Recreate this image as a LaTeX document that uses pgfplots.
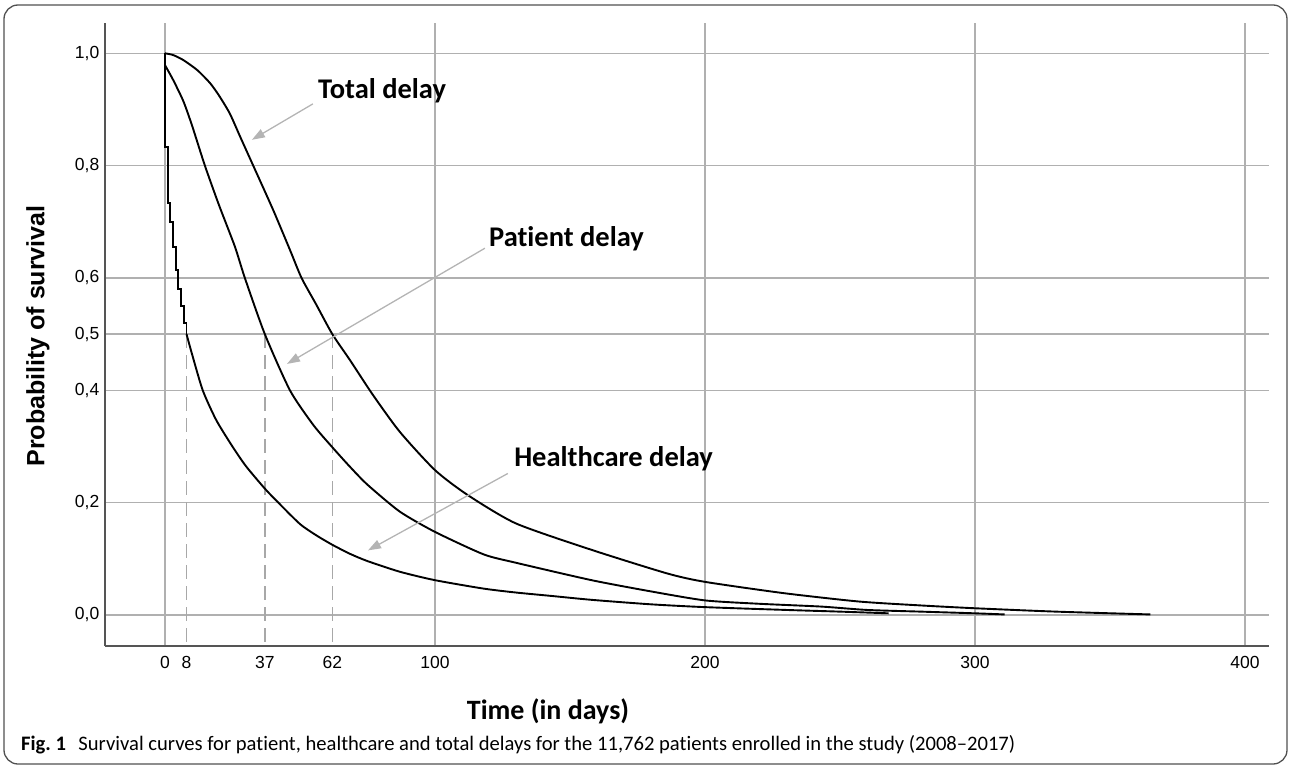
\documentclass[border=0pt]{standalone}
\usepackage{fontspec}
\setmainfont{Liberation Sans}
\newfontfamily\calib[Ligatures={TeX,NoCommon}]{Carlito}
\usepackage{pgfplots}
\pgfplotsset{compat=1.18}
\usetikzlibrary{arrows.meta}
\definecolor{gridgray}{HTML}{B0B0B0}
\definecolor{axisgray}{HTML}{555555}
\definecolor{dashgray}{HTML}{A8A8A8}
\definecolor{arrowgray}{HTML}{B4B4B4}
\definecolor{framegray}{HTML}{505050}
\begin{document}
\begin{tikzpicture}[x=1pt,y=1pt]
\useasboundingbox (0,0) rectangle (1290,-767);
\draw[framegray, line width=1.3pt, rounded corners=14pt] (4,-5) rectangle (1287,-764);
\begin{axis}[
  at={(105pt,-646pt)}, anchor=south west,
  scale only axis, width=1164pt, height=623.3pt,
  xmin=-22.2, xmax=408.9, ymin=-0.0552, ymax=1.0545,
  axis x line*=bottom, axis y line*=left,
  axis line style={-, line width=1.6pt, color=axisgray},
  xtick={0,100,200,300,400},
  extra x ticks={8,37,62}, extra x tick style={grid=none},
  ytick={0,0.2,0.4,0.5,0.6,0.8,1.0},
  yticklabels={{0,0},{0,2},{0,4},{0,5},{0,6},{0,8},{1,0}},
  xmajorgrids, ymajorgrids,
  grid style={line width=1.4pt, color=gridgray},
  major tick length=0pt,
  tick label style={font=\fontsize{17.5}{19}\selectfont},
  xticklabel style={yshift=-7.2pt},
  yticklabel style={xshift=-2.2pt},
  /pgf/number format/assume math mode=true,
  clip=false,
]
% median reference lines
\addplot[dashgray, line width=1.4pt, dash pattern=on 14pt off 7pt] coordinates {(8,0.5) (8,-0.0552)};
\addplot[dashgray, line width=1.4pt, dash pattern=on 14pt off 7pt] coordinates {(37,0.5) (37,-0.0552)};
\addplot[dashgray, line width=1.4pt, dash pattern=on 14pt off 7pt] coordinates {(62,0.5) (62,-0.0552)};
% Healthcare delay (early steps)
\addplot[black, line width=1.9pt] coordinates {
(0,1.0) (0,0.833) (1,0.833) (1,0.733) (2,0.733) (2,0.70) (3,0.70) (3,0.655)
(4,0.655) (4,0.615) (5,0.615) (5,0.58) (6,0.58) (6,0.55) (7,0.55) (7,0.52) (8,0.52) (8,0.5)};
% Healthcare delay (rest)
\addplot[black, line width=1.9pt, smooth, tension=0.4] coordinates {
(8,0.5) (10,0.465) (14,0.40) (19,0.347) (25,0.30) (30,0.265) (37,0.225) (42,0.20)
(50,0.162) (56,0.142) (62,0.125) (68.5,0.109) (75,0.096) (87,0.077) (100,0.062)
(118,0.047) (130,0.040) (143,0.034) (158,0.027) (180,0.019) (200,0.014)
(230,0.009) (250,0.006) (268,0.003)};
% Patient delay
\addplot[black, line width=1.9pt] coordinates {(0,1.0) (0,0.979)};
\addplot[black, line width=1.9pt, smooth, tension=0.4] coordinates {
(0,0.979) (3,0.953) (6.8,0.915) (10,0.872) (14.8,0.80) (20,0.73) (25.9,0.656)
(29.6,0.60) (37,0.50) (46.3,0.40) (55,0.338) (62.3,0.297) (68.5,0.264) (75,0.232)
(87,0.184) (100,0.148) (118,0.108) (130,0.093) (158,0.062) (180,0.042) (200,0.026)
(220,0.02) (243,0.015) (260,0.009) (280,0.006) (300,0.003) (311,0.001)};
% Total delay
\addplot[black, line width=1.9pt, smooth, tension=0.4] coordinates {
(0,1.0) (3,0.997) (6.8,0.988) (12,0.97) (16.7,0.947) (20,0.925) (24,0.893) (28,0.85)
(32.7,0.80) (40,0.722) (46.3,0.650) (50.6,0.60) (56,0.553) (62,0.50) (68.5,0.454)
(77,0.392) (87,0.326) (100,0.258) (112,0.214) (130,0.163) (158,0.116) (186,0.074)
(200,0.059) (229,0.039) (257,0.024) (280,0.017) (300,0.012) (330,0.006) (365,0.001)};
% annotations
\draw[arrowgray, line width=1.3pt, -{Triangle[length=13pt,width=9pt]}] (axis cs:54.8,0.910) -- (axis cs:32.2,0.846);
\draw[arrowgray, line width=1.3pt, -{Triangle[length=13pt,width=9pt]}] (axis cs:118.5,0.653) -- (axis cs:45.2,0.447);
\draw[arrowgray, line width=1.3pt, -{Triangle[length=13pt,width=9pt]}] (axis cs:127,0.252) -- (axis cs:75.2,0.115);
\node[anchor=west, inner sep=0pt, font=\calib\bfseries\fontsize{28.5}{30}\selectfont] at (axis cs:56.7,0.933) {Total delay};
\node[anchor=west, inner sep=0pt, font=\calib\bfseries\fontsize{28.5}{30}\selectfont] at (axis cs:120,0.670) {Patient delay};
\node[anchor=west, inner sep=0pt, font=\calib\bfseries\fontsize{28.5}{30}\selectfont] at (axis cs:129.3,0.2786) {Healthcare delay};
\end{axis}
\node[rotate=90, inner sep=0pt, font=\bfseries\fontsize{25}{27}\selectfont] at (38,-336) {Probability of survival};
\node[inner sep=0pt, font=\calib\bfseries\fontsize{28}{30}\selectfont] at (548,-711) {Time (in days)};
\node[anchor=west, inner sep=0pt, font=\calib\fontsize{20.6}{22}\selectfont] at (21,-745) {\textbf{Fig.~1}\hspace{0.6em}Survival curves for patient, healthcare and total delays for the 11,762 patients enrolled in the study (2008–2017)};
\end{tikzpicture}
\end{document}
